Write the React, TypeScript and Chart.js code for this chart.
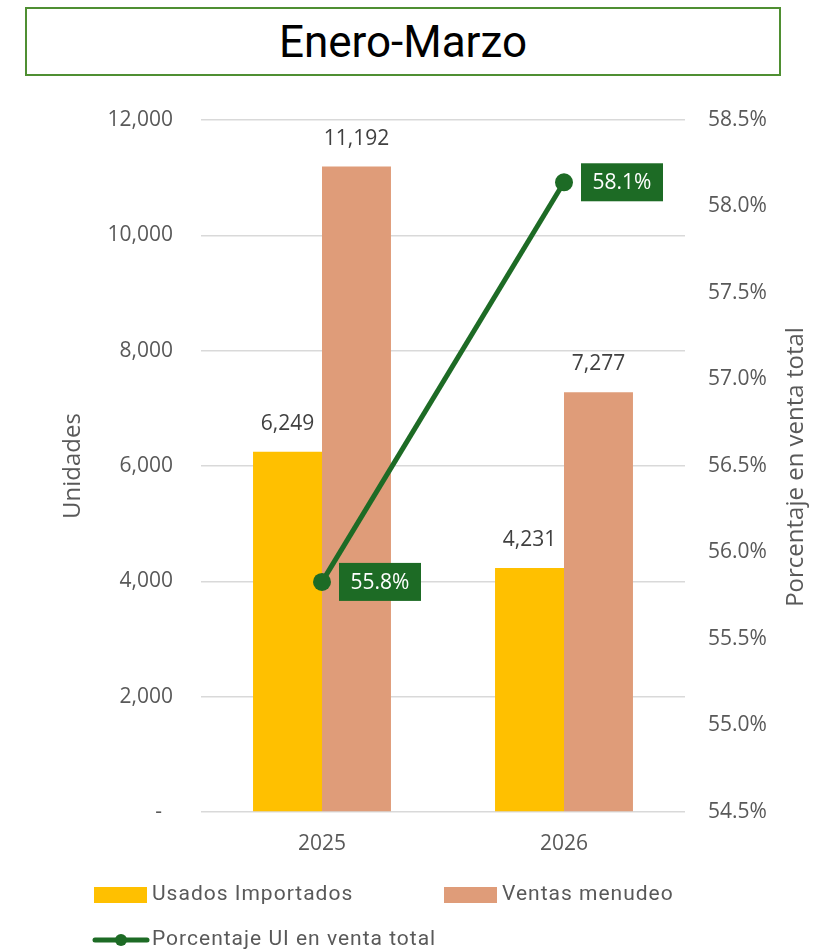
import React, { useEffect, useRef } from "react";
import { Chart, registerables } from "chart.js";

Chart.register(...registerables);

const categories = ["2025", "2026"];
const usadosImportados = [6249, 4231];
const ventasMenudeo = [11192, 7277];
const porcentajeUI = [55.83, 58.14];
const porcentajeLabels = ["55.8%", "58.1%"];

const titleText = "Enero-Marzo";
const leftTitle = "Unidades";
const rightTitle = "Porcentaje en venta total";
const seriesNames = ["Usados Importados", "Ventas menudeo", "Porcentaje UI en venta total"];

const YELLOW = "#FFC000";
const SALMON = "#DF9C79";
const GREEN = "#1D6B25";
const TICK = "#595959";
const FONT = "'Open Sans', 'Liberation Sans', sans-serif";
const LEGEND_FONT = "Roboto, 'Liberation Sans', sans-serif";

const customPlugin = {
  id: "custom",
  afterDatasetsDraw(chart: any) {
    const ctx = chart.ctx;
    ctx.save();
    // bar labels
    [0, 1].forEach((di) => {
      const meta = chart.getDatasetMeta(di);
      meta.data.forEach((bar: any, i: number) => {
        const v = chart.data.datasets[di].data[i];
        ctx.font = `21px ${FONT}`;
        ctx.fillStyle = "#404040";
        ctx.textAlign = "center";
        ctx.textBaseline = "middle";
        ctx.fillText(Number(v).toLocaleString("en-US"), bar.x, bar.y - 28);
      });
    });
    // line labels
    const lmeta = chart.getDatasetMeta(2);
    lmeta.data.forEach((pt: any, i: number) => {
      const txt = porcentajeLabels[i];
      ctx.font = `21px ${FONT}`;
      const w = 82;
      const h = 38;
      const x0 = pt.x + 17;
      const y0 = pt.y - h / 2;
      ctx.fillStyle = GREEN;
      ctx.fillRect(x0, y0, w, h);
      ctx.fillStyle = "#FFFFFF";
      ctx.textAlign = "center";
      ctx.textBaseline = "middle";
      ctx.fillText(txt, x0 + w / 2, pt.y + 1);
    });
    ctx.restore();
  },
  afterDraw(chart: any) {
    const ctx = chart.ctx;
    const drawRot = (txt: string, x: number, y: number) => {
      ctx.save();
      ctx.font = `24px ${FONT}`;
      ctx.fillStyle = TICK;
      ctx.textAlign = "center";
      ctx.textBaseline = "middle";
      ctx.translate(x, y);
      ctx.rotate(-Math.PI / 2);
      ctx.fillText(txt, 0, 0);
      ctx.restore();
    };
    drawRot(leftTitle, 73, 466);
    drawRot(rightTitle, 796, 467);

    // legend
    ctx.save();
    ctx.font = `21px ${LEGEND_FONT}`;
    (ctx as any).letterSpacing = "1px";
    ctx.textAlign = "left";
    ctx.textBaseline = "middle";
    ctx.fillStyle = YELLOW;
    ctx.fillRect(94, 887, 53, 16);
    ctx.fillStyle = TICK;
    ctx.fillText(seriesNames[0], 152, 895);
    ctx.fillStyle = SALMON;
    ctx.fillRect(444, 887, 53, 16);
    ctx.fillStyle = TICK;
    ctx.fillText(seriesNames[1], 502, 895);
    ctx.strokeStyle = GREEN;
    ctx.lineWidth = 5;
    ctx.lineCap = "round";
    ctx.beginPath();
    ctx.moveTo(95, 940);
    ctx.lineTo(147, 940);
    ctx.stroke();
    ctx.fillStyle = GREEN;
    ctx.beginPath();
    ctx.arc(121, 940, 6, 0, Math.PI * 2);
    ctx.fill();
    ctx.fillStyle = TICK;
    ctx.fillText(seriesNames[2], 152, 940);
    (ctx as any).letterSpacing = "0px";
    ctx.restore();
  },
};

export default function App() {
  const ref = useRef<HTMLCanvasElement>(null);

  useEffect(() => {
    if (!ref.current) return;
    const chart = new Chart(ref.current, {
      type: "bar",
      data: {
        labels: categories,
        datasets: [
          {
            type: "bar",
            label: seriesNames[0],
            data: usadosImportados,
            backgroundColor: YELLOW,
            yAxisID: "y",
            order: 1,
            categoryPercentage: 0.57,
            barPercentage: 1,
          },
          {
            type: "bar",
            label: seriesNames[1],
            data: ventasMenudeo,
            backgroundColor: SALMON,
            yAxisID: "y",
            order: 1,
            categoryPercentage: 0.57,
            barPercentage: 1,
          },
          {
            type: "line",
            label: seriesNames[2],
            data: porcentajeUI,
            borderColor: GREEN,
            backgroundColor: GREEN,
            borderWidth: 5,
            pointRadius: 9,
            pointBackgroundColor: GREEN,
            pointBorderColor: GREEN,
            pointBorderWidth: 0,
            yAxisID: "y1",
            order: 0,
          },
        ] as any,
      },
      options: {
        responsive: false,
        animation: false,
        layout: { padding: { top: 120, left: 0, right: 0, bottom: 0 } },
        plugins: {
          legend: { display: false },
          tooltip: { enabled: false },
          title: { display: false },
        },
        scales: {
          x: {
            grid: { display: false, drawTicks: false },
            border: { display: false },
            ticks: { color: TICK, font: { family: FONT, size: 21 }, padding: 19 },
            afterFit: (s: any) => {
              s.height = 140;
            },
          },
          y: {
            position: "left",
            min: 0,
            max: 12000,
            ticks: {
              stepSize: 2000,
              color: TICK,
              font: { family: FONT, size: 21 },
              padding: 28,
              callback: (v: any) => (Number(v) === 0 ? "-  " : Number(v).toLocaleString("en-US")),
            },
            grid: { color: "#D9D9D9", lineWidth: 1.5, drawTicks: false },
            border: { display: false },
            afterFit: (s: any) => {
              s.width = 201;
            },
          },
          y1: {
            position: "right",
            min: 54.5,
            max: 58.5,
            ticks: {
              stepSize: 0.5,
              color: TICK,
              font: { family: FONT, size: 21 },
              padding: 23,
              callback: (v: any) => Number(v).toFixed(1) + "%",
            },
            grid: { display: false, drawTicks: false },
            border: { display: false },
            afterFit: (s: any) => {
              s.width = 135;
            },
          },
        },
      } as any,
      plugins: [customPlugin],
    });
    return () => chart.destroy();
  }, []);

  return (
    <div style={{ position: "absolute", left: 0, top: 0, width: 820, height: 952, background: "#FFFFFF" }}>
      <canvas ref={ref} width={820} height={952} style={{ position: "absolute", left: 0, top: 0, width: 820, height: 952 }} />
      <div
        style={{
          position: "absolute",
          left: 25,
          top: 7,
          width: 756,
          height: 69,
          boxSizing: "border-box",
          border: "2px solid #4F8F32",
          display: "flex",
          alignItems: "center",
          justifyContent: "center",
          fontFamily: "Roboto, 'Liberation Sans', sans-serif",
          fontSize: 44,
          color: "#000000",
          background: "#FFFFFF",
        }}
      >
        {titleText}
      </div>
    </div>
  );
}
